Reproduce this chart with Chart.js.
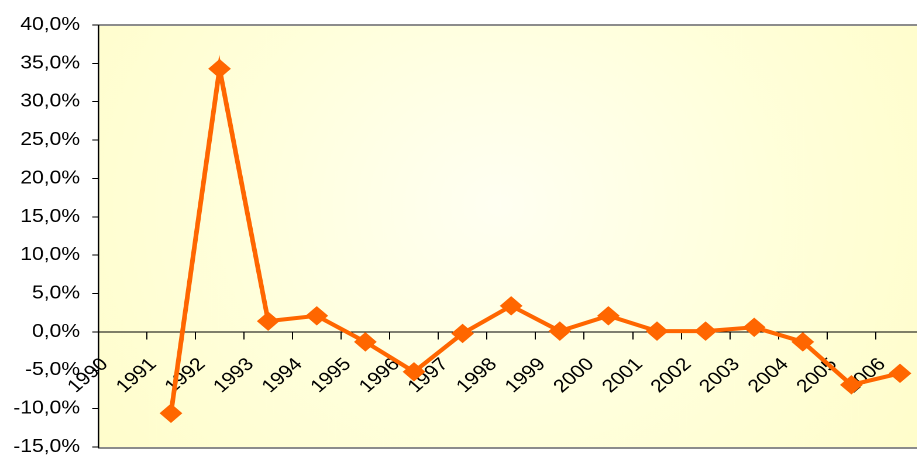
<!DOCTYPE html>
<html>
<head>
<meta charset="utf-8">
<script src="https://cdn.jsdelivr.net/npm/chart.js@4"></script>
<style>
  html, body { margin: 0; padding: 0; background: #fff; overflow: hidden; }
  #wrap { position: relative; width: 917px; height: 457px; overflow: hidden; }
  /* the reference is stretched sideways, so draw narrow and stretch */
  #chart { position: absolute; left: 0; top: 0; transform: scaleX(1.17); transform-origin: 0 0; }
</style>
</head>
<body>
<div id="wrap"><canvas id="chart" width="800" height="457"></canvas></div>
<script>
// Years on the category axis (1990 has no value)
const years = ["1990", "1991", "1992", "1993", "1994", "1995", "1996", "1997", "1998",
  "1999", "2000", "2001", "2002", "2003", "2004", "2005", "2006"];

// Yearly change, in percent
const change = [null, -10.6, 34.3, 1.4, 2.1, -1.3, -5.2, -0.2, 3.4,
  0.1, 2.1, 0.1, 0.1, 0.6, -1.3, -6.9, -5.4];

// Value axis range
const yMin = -15;
const yMax = 40;
const yStep = 5;

function pct(v) {
  return Number(v).toFixed(1).replace(".", ",") + "%";
}

// Plot area fill and grey frame
const plotArea = {
  id: "plotArea",
  beforeDraw(chart) {
    const { ctx, chartArea: a } = chart;
    ctx.save();
    const g = ctx.createRadialGradient(427, 205, 0, 427, 205, 440);
    g.addColorStop(0, "#FFFFF2");
    g.addColorStop(0.55, "#FFFFDA");
    g.addColorStop(1, "#FFFDCA");
    ctx.fillStyle = g;
    ctx.fillRect(a.left, a.top, a.right - a.left, a.bottom - a.top);
    ctx.restore();
  },
  afterDraw(chart) {
    const { ctx, chartArea: a } = chart;
    ctx.save();
    ctx.strokeStyle = "#8C8C8C";
    ctx.lineWidth = 2;
    ctx.beginPath();
    ctx.moveTo(a.left, a.top);
    ctx.lineTo(a.right, a.top);
    ctx.moveTo(a.left, a.bottom + 1);
    ctx.lineTo(a.right, a.bottom + 1);
    ctx.stroke();
    ctx.strokeStyle = "#000";
    ctx.lineWidth = 1;
    ctx.beginPath();
    ctx.moveTo(a.left + 0.5, a.top);
    ctx.lineTo(a.left + 0.5, a.bottom + 1);
    ctx.stroke();
    ctx.restore();
  }
};

const font = { family: "'Liberation Sans', Arial, sans-serif", size: 18 };

new Chart(document.getElementById("chart"), {
  type: "line",
  data: {
    labels: years,
    datasets: [{
      data: change,
      borderColor: "#FF6600",
      backgroundColor: "#FF6600",
      borderWidth: 4,
      pointStyle: "rectRot",
      pointRadius: 9,
      pointBorderWidth: 1,
      pointBackgroundColor: "#FF6600",
      pointBorderColor: "#FF6600",
      tension: 0
    }]
  },
  options: {
    responsive: false,
    animation: false,
    devicePixelRatio: 2,
    layout: { padding: { top: 25, bottom: 9, left: 0, right: 4 } },
    plugins: { legend: { display: false }, tooltip: { enabled: false } },
    scales: {
      x: {
        type: "category",
        position: { y: 0 },
        offset: true,
        grid: { drawOnChartArea: false, offset: true, tickLength: 7, color: "#000" },
        border: { color: "#000", width: 1 },
        ticks: {
          color: "#000",
          font: font,
          minRotation: 45,
          maxRotation: 45,
          autoSkip: false,
          labelOffset: -15,
          padding: 15
        }
      },
      y: {
        min: yMin,
        max: yMax,
        grid: { drawOnChartArea: false, tickLength: 5, color: "#000" },
        border: { color: "#000", width: 1 },
        ticks: {
          stepSize: yStep,
          color: "#000",
          font: font,
          padding: 10.4,
          callback: v => pct(v)
        },
        afterFit(scale) {
          scale.width = 83.8;
          scale.paddingTop = 0;
          scale.paddingBottom = 0;
        }
      }
    }
  },
  plugins: [plotArea]
});
</script>
</body>
</html>
